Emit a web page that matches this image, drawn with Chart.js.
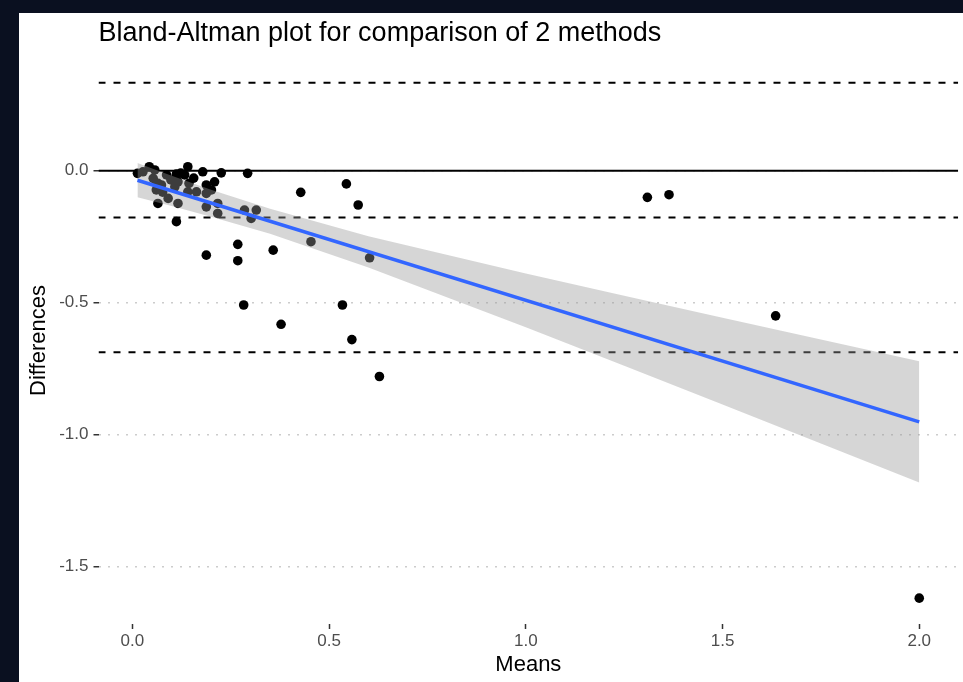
<!DOCTYPE html>
<html>
<head>
<meta charset="utf-8">
<script src="https://cdn.jsdelivr.net/npm/chart.js@4/dist/chart.umd.min.js"></script>
<style>
  html, body { margin: 0; padding: 0; background: #0a1020; }
  #wrap { width: 963px; height: 682px; }
</style>
</head>
<body>
<div id="wrap"><canvas id="myChart" width="963" height="682"></canvas></div>
<script>
// means and differences of the two methods
const means = [
    0.013, 0.043, 0.057, 0.027, 0.053, 0.087, 0.065, 0.074, 0.061, 0.065,
    0.091, 0.108, 0.116, 0.116, 0.112, 0.123, 0.141, 0.133, 0.144, 0.141,
    0.112, 0.163, 0.179, 0.188, 0.209, 0.188, 0.188, 0.217, 0.217, 0.226,
    0.293, 0.285, 0.302, 0.315, 0.428, 0.454, 0.188, 0.268, 0.268, 0.358,
    0.603, 0.283, 0.534, 0.378, 0.558, 0.628, 0.544, 0.574, 1.309, 1.364,
    1.635, 2.000, 0.098, 0.156, 0.077, 0.201
];
const diffs = [
    -0.010, 0.015, 0.003, -0.004, -0.029, -0.016, -0.048, -0.054, -0.073, -0.124,
    -0.105, -0.061, -0.042, -0.124, -0.013, -0.009, 0.015, -0.016, -0.048, -0.080,
    -0.193, -0.080, -0.004, -0.054, -0.042, -0.086, -0.137, -0.124, -0.162, -0.008,
    -0.010, -0.149, -0.181, -0.149, -0.082, -0.269, -0.320, -0.279, -0.341, -0.301,
    -0.330, -0.509, -0.509, -0.582, -0.640, -0.780, -0.050, -0.130, -0.101, -0.091,
    -0.550, -1.620, -0.035, -0.028, -0.081, -0.073
];

// upper limit of agreement, mean difference, lower limit
const limitLevels = [0.333, -0.177, -0.688];
const zeroLevel = [0];

// fitted line and its confidence band
const fitX = [0.013, 2.0];
const fitY = [-0.036, -0.952];
const bandX = [0.013, 0.1, 0.2, 0.35, 0.6, 1.0, 1.25, 1.5, 1.75, 2.0];
const bandUpper = [0.029, -0.019, -0.072, -0.144, -0.248, -0.390, -0.474, -0.557, -0.640, -0.722];
const bandLower = [-0.101, -0.134, -0.174, -0.239, -0.367, -0.593, -0.739, -0.886, -1.034, -1.182];

const xTicks = [0, 0.5, 1, 1.5, 2];
const yTicks = [-1.5, -1, -0.5, 0];

const xMin = -0.086, xMax = 2.099;
const yMin = -1.718, yMax = 0.431;

const toPoints = (xs, ys) => xs.map((x, i) => ({ x: x, y: ys[i] }));
const hline = (v) => [{ x: xMin, y: v }, { x: xMax, y: v }];

const datasets = [];

// reference lines at the bottom
zeroLevel.forEach((v) => {
    datasets.push({
        data: hline(v), borderColor: "#000", borderWidth: 2,
        pointRadius: 0, order: 4
    });
});
limitLevels.forEach((v) => {
    datasets.push({
        data: hline(v), borderColor: "#000", borderWidth: 2, borderDash: [7, 8],
        pointRadius: 0, order: 4
    });
});

// points
datasets.push({
    data: toPoints(means, diffs), showLine: false,
    pointRadius: 4.8, pointBackgroundColor: "#000", pointBorderWidth: 0,
    order: 3
});

// confidence band (upper fills down to lower)
const lowerIndex = datasets.length + 1;
datasets.push({
    data: toPoints(bandX, bandUpper), borderWidth: 0, pointRadius: 0,
    fill: { target: lowerIndex }, backgroundColor: "rgba(153,153,153,0.4)", order: 2
});
datasets.push({
    data: toPoints(bandX, bandLower), borderWidth: 0, pointRadius: 0,
    fill: false, order: 2
});

// fitted line on top
datasets.push({
    data: toPoints(fitX, fitY), borderColor: "#3366FF", borderWidth: 3.5,
    pointRadius: 0, order: 1
});

const frame = {
    id: "frame",
    beforeDraw(chart) {
        const ctx = chart.ctx;
        ctx.save();
        ctx.fillStyle = "#0a1020";
        ctx.fillRect(0, 0, chart.width, chart.height);
        ctx.fillStyle = "#ffffff";
        ctx.fillRect(19, 13, chart.width - 19, chart.height - 13);
        ctx.restore();
    },
    afterDraw(chart) {
        const ctx = chart.ctx;
        ctx.save();
        ctx.fillStyle = "#000";
        ctx.font = "27px 'Liberation Sans', Arial, sans-serif";
        ctx.textBaseline = "alphabetic";
        ctx.fillText("Bland-Altman plot for comparison of 2 methods", chart.chartArea.left, 41);
        ctx.restore();
    }
};

const tickFont = { family: "'Liberation Sans', Arial, sans-serif", size: 17 };
const titleFont = { family: "'Liberation Sans', Arial, sans-serif", size: 22 };

const ctx = document.getElementById("myChart").getContext("2d");
const myChart = new Chart(ctx, {
    type: "line",
    data: { datasets: datasets },
    plugins: [frame],
    options: {
        responsive: false,
        animation: false,
        devicePixelRatio: 1,
        layout: { padding: { top: 57, right: 2, bottom: 0, left: 0 } },
        plugins: { legend: { display: false }, tooltip: { enabled: false } },
        elements: { line: { tension: 0 } },
        scales: {
            x: {
                type: "linear", min: xMin, max: xMax,
                afterBuildTicks: (scale) => { scale.ticks = xTicks.map((v) => ({ value: v })); },
                afterFit: (scale) => { scale.height = 58; },
                grid: {
                    drawOnChartArea: false, drawTicks: true, tickLength: 5,
                    tickColor: "#333", tickWidth: 1.5
                },
                border: { display: false },
                ticks: {
                    color: "#4d4d4d", font: tickFont, padding: 2, maxRotation: 0,
                    callback: (v) => Number(v).toFixed(1)
                },
                title: {
                    display: true, text: "Means", color: "#000", font: titleFont,
                    padding: { top: 0, bottom: 4 }
                }
            },
            y: {
                type: "linear", min: yMin, max: yMax,
                afterBuildTicks: (scale) => { scale.ticks = yTicks.map((v) => ({ value: v })); },
                afterFit: (scale) => { scale.width = 98.5; },
                grid: {
                    color: "#cccccc", lineWidth: 1.5, drawTicks: true, tickLength: 5,
                    tickColor: "#333", tickWidth: 1.5, tickBorderDash: []
                },
                border: { display: false, dash: [2, 7] },
                ticks: {
                    color: "#4d4d4d", font: tickFont, padding: 5,
                    callback: (v) => Number(v).toFixed(1)
                },
                title: {
                    display: true, text: "Differences", color: "#000", font: titleFont,
                    padding: { top: 26, bottom: 0 }
                }
            }
        }
    }
});
</script>
</body>
</html>
